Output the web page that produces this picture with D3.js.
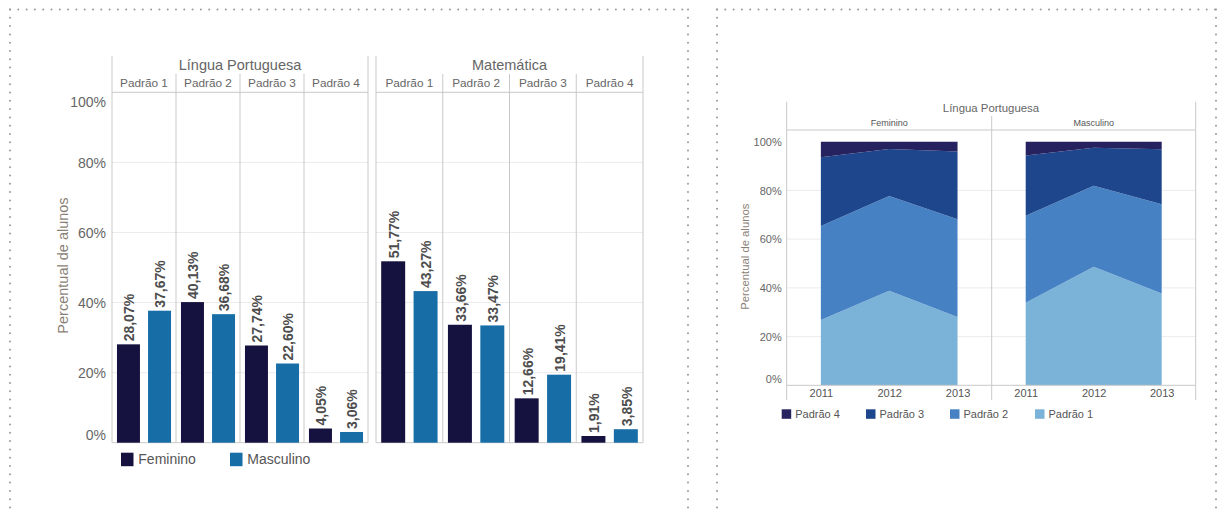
<!DOCTYPE html>
<html>
<head>
<meta charset="utf-8">
<script src="https://cdn.jsdelivr.net/npm/d3@7"></script>
<style>
  body { margin: 0; background: #fff; }
  svg text { font-family: "Liberation Sans", Arial, sans-serif; }
</style>
</head>
<body>
<div id="canvas"></div>
<script>
/* Data */
const SUBJECTS = ["Língua Portuguesa", "Matemática"];
const LEVELS = ["Padrão 1", "Padrão 2", "Padrão 3", "Padrão 4"];
const GENDERS = ["Feminino", "Masculino"];
const LP_FEM = [28.07, 40.13, 27.74, 4.05];
const LP_MASC = [37.67, 36.68, 22.60, 3.06];
const MAT_FEM = [51.77, 33.66, 12.66, 1.91];
const MAT_MASC = [43.27, 33.47, 19.41, 3.85];
const PCT_TICKS = [0, 20, 40, 60, 80, 100];

const YEARS = ["2011", "2012", "2013"];
const STACK_KEYS = ["Padrão 1", "Padrão 2", "Padrão 3", "Padrão 4"];
const FEM_P1 = [26.8, 38.8, 28.07];
const FEM_P2 = [38.6, 38.9, 40.13];
const FEM_P3 = [28.2, 19.3, 27.74];
const FEM_P4 = [6.4, 3.0, 4.05];
const MASC_P1 = [33.9, 48.7, 37.67];
const MASC_P2 = [35.7, 33.2, 36.68];
const MASC_P3 = [24.7, 15.6, 22.60];
const MASC_P4 = [5.7, 2.5, 3.06];

/* Styles */
const W = 1217, H = 510;
const GENDER_COLORS = {"Feminino": "#15123f", "Masculino": "#176ea7"};
const LEVEL_COLORS = {"Padrão 4": "#262260", "Padrão 3": "#1e468c", "Padrão 2": "#4682c3", "Padrão 1": "#7bb2d8"};
const LINE = "#c9c9c9";
const GRID = "#ececec";
const TEXT = "#666";
const TITLE_COLOR = "#8a7f76";
const fmt = (v) => d3.format(".2f")(v).replace(".", ",") + "%";

const svg = d3.select("#canvas").append("svg")
  .attr("width", W).attr("height", H);

/* Dotted frames */
const dotted = (x1, y1, x2, y2) => svg.append("line")
  .attr("x1", x1).attr("y1", y1).attr("x2", x2).attr("y2", y2)
  .attr("stroke", "#9a9a9a").attr("stroke-width", 2)
  .attr("stroke-linecap", "round").attr("stroke-dasharray", "0,8.3");
dotted(10, 9.5, 688, 9.5); dotted(10, 9.5, 10, 510); dotted(688, 9.5, 688, 510);
dotted(717, 9.5, 1216, 9.5); dotted(717, 9.5, 717, 510); dotted(1216, 9.5, 1216, 510);

/* ---------- Left chart: grouped bars ---------- */
const L = {top: 56, header: 92.3, bottom: 442.7};
const yL = d3.scaleLinear().domain([0, 100]).range([L.bottom, L.header]);
const panelsL = [
  {name: SUBJECTS[0], range: [112, 368], values: {"Feminino": LP_FEM, "Masculino": LP_MASC}},
  {name: SUBJECTS[1], range: [376, 643], values: {"Feminino": MAT_FEM, "Masculino": MAT_MASC}}
];

panelsL.forEach((p) => {
  const g = svg.append("g");
  const x0 = d3.scaleBand().domain(LEVELS).range(p.range);
  const x1 = d3.scaleBand().domain(GENDERS).range([0, x0.bandwidth()])
    .paddingInner(0.26).paddingOuter(0.16);

  // gridlines
  g.selectAll("line.grid").data(PCT_TICKS.filter(t => t > 0 && t < 100)).enter()
    .append("line")
    .attr("x1", p.range[0]).attr("x2", p.range[1])
    .attr("y1", d => yL(d)).attr("y2", d => yL(d))
    .attr("stroke", GRID);

  // header
  g.append("text").attr("x", (p.range[0] + p.range[1]) / 2).attr("y", 65)
    .attr("text-anchor", "middle").attr("dy", "0.35em")
    .attr("font-size", 14.5).attr("fill", TEXT).text(p.name);
  g.selectAll("text.level").data(LEVELS).enter().append("text")
    .attr("x", d => x0(d) + x0.bandwidth() / 2).attr("y", 83)
    .attr("text-anchor", "middle").attr("dy", "0.35em")
    .attr("font-size", 11.8).attr("fill", TEXT).text(d => d);

  // frame lines
  g.append("line").attr("x1", p.range[0]).attr("x2", p.range[1])
    .attr("y1", L.header).attr("y2", L.header).attr("stroke", LINE);
  g.append("line").attr("x1", p.range[0]).attr("x2", p.range[1])
    .attr("y1", L.bottom).attr("y2", L.bottom).attr("stroke", LINE);
  p.range.forEach(xv => g.append("line").attr("x1", xv).attr("x2", xv)
    .attr("y1", L.top).attr("y2", L.bottom).attr("stroke", LINE));
  g.selectAll("line.div").data(LEVELS.slice(1)).enter().append("line")
    .attr("x1", d => x0(d)).attr("x2", d => x0(d))
    .attr("y1", 74).attr("y2", L.bottom).attr("stroke", LINE);

  // bars
  const rows = [];
  LEVELS.forEach((lv, i) => GENDERS.forEach(gd => rows.push({level: lv, gender: gd, value: p.values[gd][i]})));
  g.selectAll("rect.bar").data(rows).enter().append("rect")
    .attr("x", d => x0(d.level) + x1(d.gender))
    .attr("y", d => yL(d.value))
    .attr("width", x1.bandwidth())
    .attr("height", d => yL(0) - yL(d.value))
    .attr("fill", d => GENDER_COLORS[d.gender]);

  g.selectAll("text.val").data(rows).enter().append("text")
    .attr("transform", d => "translate(" + (x0(d.level) + x1(d.gender) + x1.bandwidth() / 2 + 1) + "," + (yL(d.value) - 3) + ") rotate(-90)")
    .attr("dy", "0.35em").attr("text-anchor", "start")
    .attr("font-size", 14).attr("font-weight", "bold").attr("fill", "#4d4d4d")
    .text(d => fmt(d.value));
});

// y axis (left)
const axL = svg.append("g").attr("transform", "translate(112,0)")
  .call(d3.axisLeft(yL).tickValues(PCT_TICKS).tickSize(0).tickPadding(6).tickFormat(d => d + "%"));
axL.select(".domain").remove();
axL.selectAll("text").attr("font-size", 14).attr("fill", TEXT)
  .style("font-family", "'Liberation Sans', Arial, sans-serif")
  .attr("dy", d => d === 100 ? "1.0em" : d === 0 ? "-0.2em" : "0.35em");
svg.append("text").attr("transform", "translate(62.5,265.5) rotate(-90)")
  .attr("text-anchor", "middle").attr("dy", "0.35em")
  .attr("font-size", 14.5).attr("fill", TITLE_COLOR).text("Percentual de alunos");

// legend (left)
const legL = svg.append("g");
[{g: "Feminino", x: 121}, {g: "Masculino", x: 230}].forEach(d => {
  legL.append("rect").attr("x", d.x).attr("y", 452.7).attr("width", 12.5).attr("height", 13.5)
    .attr("fill", GENDER_COLORS[d.g]);
  legL.append("text").attr("x", d.x + 17.3).attr("y", 459.5).attr("dy", "0.35em")
    .attr("font-size", 14).attr("fill", "#555").text(d.g);
});

/* ---------- Right chart: stacked areas ---------- */
const R = {left: 786.7, mid: 991.7, right: 1195.7, top: 101.7, header: 130, plotTop: 141.7, bottom: 385.3};
const yR = d3.scaleLinear().domain([0, 100]).range([R.bottom, R.plotTop]);
const panelsR = [
  {name: GENDERS[0], range: [R.left, R.mid], series: [FEM_P1, FEM_P2, FEM_P3, FEM_P4]},
  {name: GENDERS[1], range: [R.mid, R.right], series: [MASC_P1, MASC_P2, MASC_P3, MASC_P4]}
];

const gR = svg.append("g");
gR.selectAll("line.grid").data(PCT_TICKS.filter(t => t > 0 && t < 100)).enter()
  .append("line").attr("x1", R.left).attr("x2", R.right)
  .attr("y1", d => yR(d)).attr("y2", d => yR(d)).attr("stroke", GRID);

panelsR.forEach(p => {
  const x = d3.scalePoint().domain(YEARS).range(p.range).padding(0.5);
  const table = YEARS.map((yr, i) => {
    const row = {year: yr};
    STACK_KEYS.forEach((k, j) => row[k] = p.series[j][i]);
    return row;
  });
  const stacked = d3.stack().keys(STACK_KEYS)(table);
  const area = d3.area().x(d => x(d.data.year)).y0(d => yR(d[0])).y1(d => yR(d[1]));
  gR.selectAll(null).data(stacked).enter().append("path")
    .attr("d", area).attr("fill", d => LEVEL_COLORS[d.key]);

  gR.append("text").attr("x", (p.range[0] + p.range[1]) / 2).attr("y", 122.7)
    .attr("text-anchor", "middle").attr("dy", "0.35em")
    .attr("font-size", 9).attr("fill", "#555").text(p.name);

  const ax = gR.append("g").attr("transform", "translate(0," + R.bottom + ")")
    .call(d3.axisBottom(x).tickSize(0).tickPadding(4));
  ax.select(".domain").remove();
  ax.selectAll("text").attr("font-size", 11).attr("fill", "#555")
    .style("font-family", "'Liberation Sans', Arial, sans-serif");
});

gR.append("line").attr("x1", R.left).attr("x2", R.right).attr("y1", R.header).attr("y2", R.header).attr("stroke", LINE);
gR.append("line").attr("x1", R.left).attr("x2", R.right).attr("y1", R.bottom).attr("y2", R.bottom).attr("stroke", LINE);
[R.left, R.right].forEach(xv => gR.append("line").attr("x1", xv).attr("x2", xv)
  .attr("y1", R.top).attr("y2", 400).attr("stroke", LINE));
gR.append("line").attr("x1", R.mid).attr("x2", R.mid).attr("y1", 116).attr("y2", 400).attr("stroke", LINE);

gR.append("text").attr("x", 991).attr("y", 108).attr("text-anchor", "middle").attr("dy", "0.35em")
  .attr("font-size", 11.4).attr("fill", TEXT).text(SUBJECTS[0]);

const axR = svg.append("g").attr("transform", "translate(" + R.left + ",0)")
  .call(d3.axisLeft(yR).tickValues(PCT_TICKS).tickSize(0).tickPadding(5).tickFormat(d => d + "%"));
axR.select(".domain").remove();
axR.selectAll("text").attr("font-size", 11).attr("fill", TEXT)
  .style("font-family", "'Liberation Sans', Arial, sans-serif")
  .attr("dy", d => d === 0 ? "-0.25em" : "0.35em");
svg.append("text").attr("transform", "translate(745,256.7) rotate(-90)")
  .attr("text-anchor", "middle").attr("dy", "0.35em")
  .attr("font-size", 11.3).attr("fill", TITLE_COLOR).text("Percentual de alunos");

// legend (right)
const legR = svg.append("g");
[{k: "Padrão 4", x: 781.7}, {k: "Padrão 3", x: 866}, {k: "Padrão 2", x: 950}, {k: "Padrão 1", x: 1035}].forEach(d => {
  legR.append("rect").attr("x", d.x).attr("y", 409.3).attr("width", 9.5).attr("height", 9.5)
    .attr("fill", LEVEL_COLORS[d.k]);
  legR.append("text").attr("x", d.x + 13.5).attr("y", 414).attr("dy", "0.35em")
    .attr("font-size", 11).attr("fill", "#555").text(d.k);
});
</script>
</body>
</html>
